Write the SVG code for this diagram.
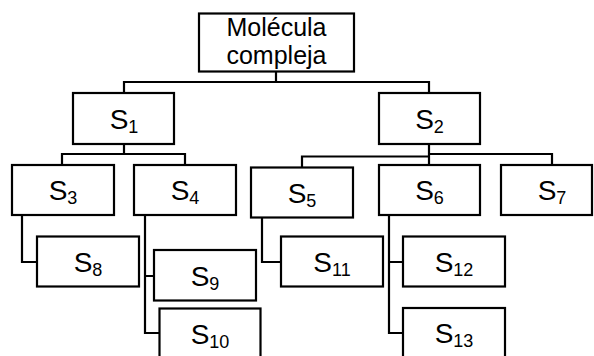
<svg xmlns="http://www.w3.org/2000/svg" width="594" height="356" viewBox="0 0 594 356">
<style>
rect{fill:#fff;stroke:#000;stroke-width:2.2}
.c path{fill:none;stroke:#000;stroke-width:2.2}
text{font-family:"Liberation Sans",Arial,sans-serif;fill:#000;text-anchor:middle}
.s{font-size:28px}
.b{font-size:18px}
.t{font-size:25px}
</style>
<rect x="0" y="0" width="594" height="356" style="stroke:none"/>
<g class="c" id="connectors">
<path d="M276,72V82M124,93V82H429V93"/>
<path d="M124,144V154M62,165V154H185V165"/>
<path d="M302,167V156.5H429M429,144V165M429,154H552V165"/>
<path d="M22,215V262H37"/>
<path d="M145,215V333H159M145,276H154"/>
<path d="M262,218V262H281"/>
<path d="M389,215V333H403M389,262H403"/>
</g>
<g id="root"><rect x="199" y="13.5" width="155" height="58"/><text class="t" x="276.5" y="36">Molécula</text><text class="t" x="276.5" y="64">compleja</text></g>
<g id="s1"><rect x="73" y="93" width="101" height="51"/><text class="s" x="124" y="128.5">S<tspan class="b" dy="4">1</tspan></text></g>
<g id="s2"><rect x="379" y="93" width="101" height="51"/><text class="s" x="429.5" y="128.5">S<tspan class="b" dy="4">2</tspan></text></g>
<g id="s3"><rect x="12" y="165" width="102" height="50"/><text class="s" x="63" y="200">S<tspan class="b" dy="4">3</tspan></text></g>
<g id="s4"><rect x="134" y="165" width="102" height="50"/><text class="s" x="185" y="200">S<tspan class="b" dy="4">4</tspan></text></g>
<g id="s5"><rect x="251" y="167.5" width="102" height="50"/><text class="s" x="302" y="202.5">S<tspan class="b" dy="4">5</tspan></text></g>
<g id="s6"><rect x="379" y="165" width="101" height="50"/><text class="s" x="429.5" y="200">S<tspan class="b" dy="4">6</tspan></text></g>
<g id="s7"><rect x="501" y="165" width="91" height="50"/><text class="s" x="552" y="200">S<tspan class="b" dy="4">7</tspan></text></g>
<g id="s8"><rect x="37" y="236.5" width="102" height="50"/><text class="s" x="88" y="271.5">S<tspan class="b" dy="4">8</tspan></text></g>
<g id="s9"><rect x="154" y="250" width="102" height="50.5"/><text class="s" x="205" y="285.5">S<tspan class="b" dy="4">9</tspan></text></g>
<g id="s10"><rect x="159.5" y="308.5" width="101" height="52"/><text class="s" x="210" y="343.5">S<tspan class="b" dy="4">10</tspan></text></g>
<g id="s11"><rect x="281" y="236.5" width="102" height="50"/><text class="s" x="332" y="271.5">S<tspan class="b" dy="4">11</tspan></text></g>
<g id="s12"><rect x="403" y="236.5" width="102" height="50"/><text class="s" x="454" y="271.5">S<tspan class="b" dy="4">12</tspan></text></g>
<g id="s13"><rect x="403" y="308" width="102" height="52"/><text class="s" x="454" y="343">S<tspan class="b" dy="4">13</tspan></text></g>
</svg>
